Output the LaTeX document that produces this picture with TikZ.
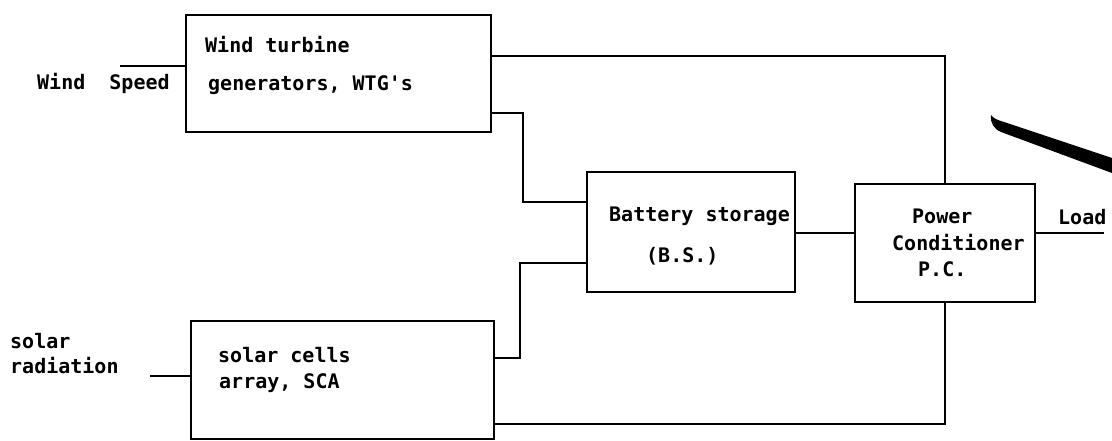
\documentclass[tikz,border=0pt]{standalone}
\usepackage{fontspec}
\newfontfamily\typefont{DejaVu Sans Mono}
\tikzset{
  block/.style={draw, line width=2.8pt, inner sep=0pt},
  wire/.style={line width=2.8pt},
  txt/.style={anchor=base west, inner sep=0pt, font=\typefont\bfseries\fontsize{20}{24}\selectfont},
}
\begin{document}
\begin{tikzpicture}[x=1pt,y=-1pt]
\useasboundingbox (0,0) rectangle (1112,441);
% blocks
\node[block, minimum width=305pt, minimum height=117pt] (wtg) at (338.5,73.5) {};
\node[block, minimum width=208pt, minimum height=120pt] (bs) at (691,232) {};
\node[block, minimum width=180pt, minimum height=118pt] (pc) at (945,243) {};
\node[block, minimum width=303pt, minimum height=118pt] (sca) at (342.5,380) {};
% texts
\node[txt] (wtga) at (205,53) {Wind turbine};
\node[txt] (wtgb) at (208,91) {generators, WTG's};
\node[txt] (bsa) at (609,222) {Battery storage};
\node[txt] (bsb) at (646,262) {(B.S.)};
\node[txt] (pca) at (912,224) {Power};
\node[txt] (pcb) at (892,251) {Conditioner};
\node[txt] (pcc) at (918,276) {P.C.};
\node[txt] (scaa) at (218,362) {solar cells};
\node[txt] (scab) at (219,388) {array, SCA};
\node[txt] (wind) at (37,90) {Wind~~Speed};
\node[txt] (sola) at (10,348) {solar};
\node[txt] (solb) at (10,373) {radiation};
\node[txt] (load) at (1058,225) {Load};
% connectors
\coordinate (windin) at (120,66);
\draw[wire] (windin) -- (windin -| wtg.west);
\draw[wire] (wtg.east |- 0,56) -- (pc.north |- 0,56) -- (pc.north);
\draw[wire] (wtg.east |- 0,113) -- (523,113) -- (523,202) -- (bs.west |- 0,202);
\draw[wire] (sca.east |- 0,358) -- (520,358) -- (520,263) -- (bs.west |- 0,263);
\draw[wire] (bs.east |- 0,233) -- (pc.west |- 0,233);
\coordinate (loadout) at (1104,233);
\draw[wire] (pc.east |- 0,233) -- (loadout);
\draw[wire] (pc.south) -- (pc.south |- 0,424) -- (sca.east |- 0,424);
\coordinate (solarin) at (150,376);
\draw[wire] (solarin) -- (solarin -| sca.west);
% stroke at top right
\fill (991,115) .. controls (990,123) and (994,129) .. (1001,132)
  -- (1112,173) -- (1112,158) -- (1004,122)
  .. controls (997,120) and (993,118) .. (991,115) -- cycle;
\end{tikzpicture}
\end{document}
